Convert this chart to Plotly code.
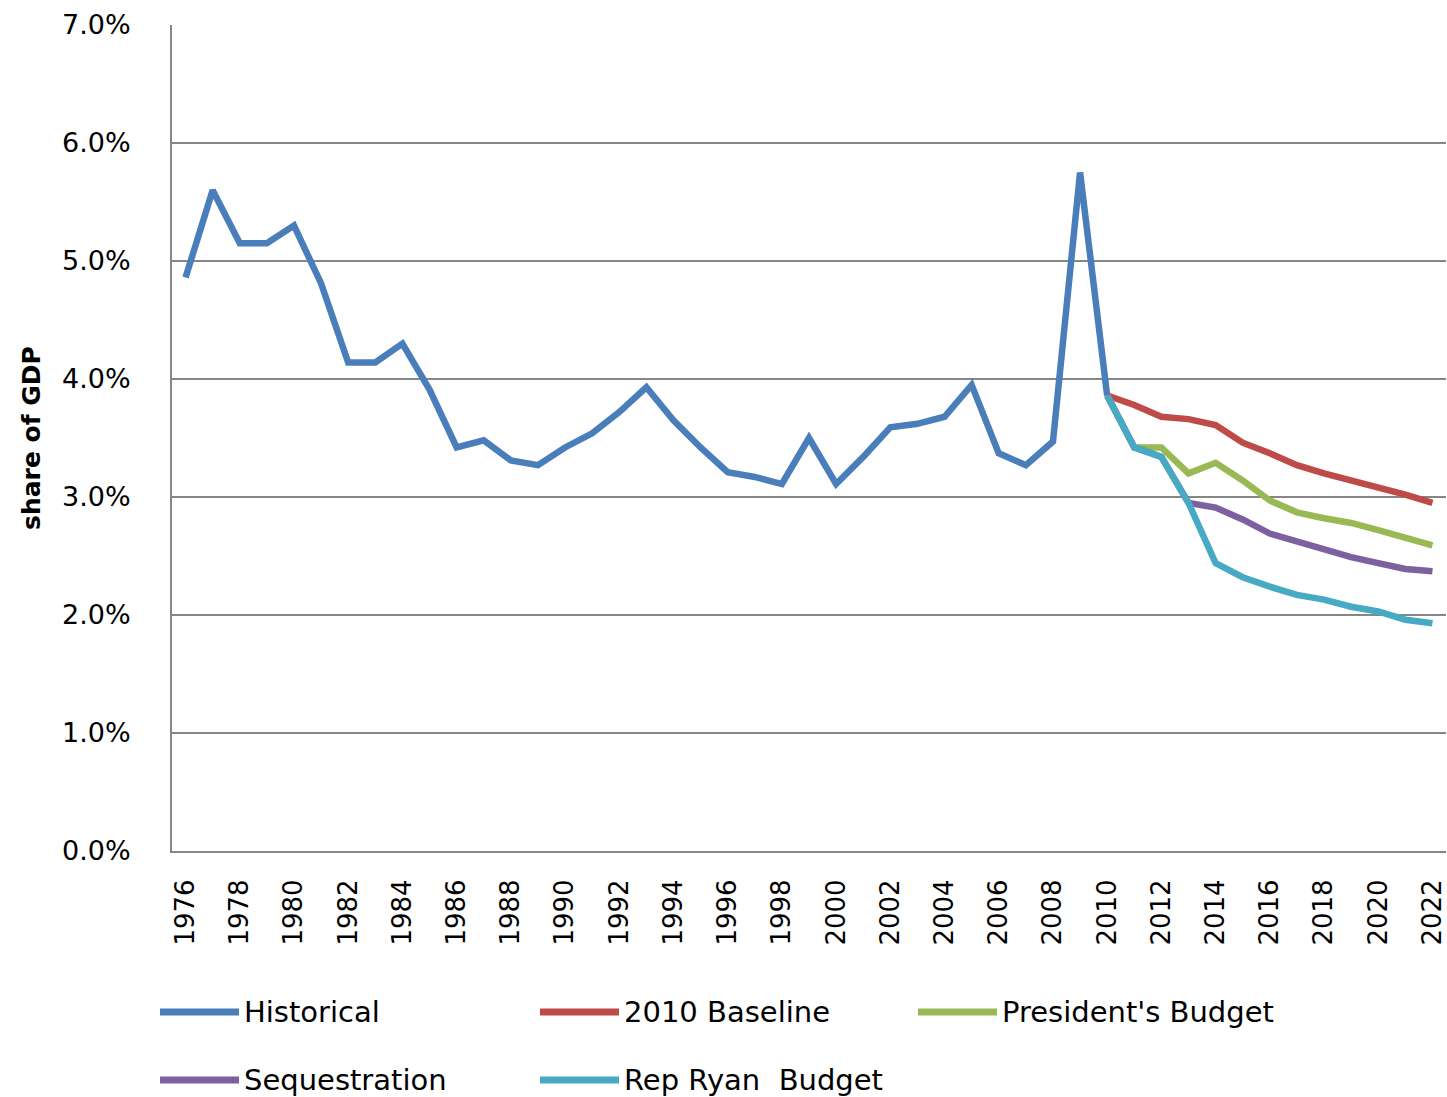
import plotly.graph_objects as go

# --- data (share of GDP, %) ---
hist_years = list(range(1976, 2011))
historical = [4.86, 5.60, 5.15, 5.15, 5.30, 4.81, 4.14, 4.14, 4.30, 3.91,
              3.42, 3.48, 3.31, 3.27, 3.42, 3.54, 3.72, 3.93, 3.65, 3.42,
              3.21, 3.17, 3.11, 3.50, 3.11, 3.34, 3.59, 3.62, 3.68, 3.95,
              3.37, 3.27, 3.47, 5.75, 3.86]

proj_years = list(range(2010, 2023))
baseline_2010 = [3.86, 3.78, 3.68, 3.66, 3.61, 3.46, 3.37, 3.27, 3.20, 3.14, 3.09, 3.02, 2.95]
presidents = [3.86, 3.42, 3.42, 3.20, 3.29, 3.14, 2.97, 2.87, 2.82, 2.78, 2.72, 2.66, 2.59]
sequestration = [3.86, 3.42, 3.34, 2.95, 2.91, 2.81, 2.69, 2.62, 2.55, 2.49, 2.44, 2.39, 2.37]
ryan = [3.86, 3.42, 3.34, 2.95, 2.44, 2.32, 2.24, 2.17, 2.13, 2.07, 2.03, 1.96, 1.93]

series = [
    ("Historical", hist_years, historical, "#4a7ebb"),
    ("2010 Baseline", proj_years, baseline_2010, "#be4b48"),
    ("President's Budget", proj_years, presidents, "#98b954"),
    ("Sequestration", proj_years, sequestration, "#7d60a0"),
    ("Rep Ryan  Budget", proj_years, ryan, "#46aac5"),
]

W, H = 1447, 1097
L, R, T, B = 172, 1, 25, 246
GRID = "#868686"
FONT = "DejaVu Sans, Verdana, sans-serif"

fig = go.Figure()
for name, xs, ys, color in series:
    fig.add_trace(go.Scatter(
        x=xs, y=[v / 100 for v in ys], mode="lines", name=name,
        line=dict(color=color, width=6.5),
    ))

# legend drawn by hand so the key lines get the long Excel-style length
def px_x(p):
    return (p - L) / (W - L - R)

def px_y(p):
    return (H - B - p) / (H - T - B)

legend_pos = [(160, 1012), (540, 1012), (918, 1012), (160, 1080), (540, 1080)]
for (name, _, _, color), (lx, ly) in zip(series, legend_pos):
    fig.add_shape(type="line", xref="paper", yref="paper",
                  x0=px_x(lx), x1=px_x(lx + 79), y0=px_y(ly), y1=px_y(ly),
                  line=dict(color=color, width=7))
    fig.add_annotation(xref="paper", yref="paper", x=px_x(lx + 82), y=px_y(ly),
                       text=name.replace("  ", "&nbsp; "), showarrow=False,
                       xanchor="left", yanchor="middle",
                       font=dict(family=FONT, size=29, color="#000000"))

fig.update_layout(
    width=W, height=H,
    margin=dict(l=L, r=R, t=T, b=B),
    paper_bgcolor="white", plot_bgcolor="white",
    showlegend=False,
    font=dict(family=FONT, color="#000000"),
)
fig.update_xaxes(
    range=[1975.5, 2022.5], tick0=1976, dtick=2, tickangle=-90,
    showgrid=False, zeroline=False,
    showline=True, linecolor=GRID, linewidth=2,
    ticks="", ticklabelstandoff=16, ticklabeloverflow="allow",
    tickfont=dict(family=FONT, size=26, color="#000000"),
)
fig.update_yaxes(
    range=[0, 0.07], dtick=0.01, tickformat=".1%",
    showgrid=True, gridcolor=GRID, gridwidth=2,
    zeroline=False,
    showline=True, linecolor=GRID, linewidth=2,
    ticks="", ticklabelstandoff=34,
    tickfont=dict(family=FONT, size=27, color="#000000"),
    title=dict(text="<b>share of GDP</b>", standoff=14,
               font=dict(family=FONT, size=25, color="#000000")),
)

# page body margin would shift the figure by 8px and add scrollbars
fig.write_html("out.html", config={"displayModeBar": False},
               post_script="document.body.style.margin='0';")
